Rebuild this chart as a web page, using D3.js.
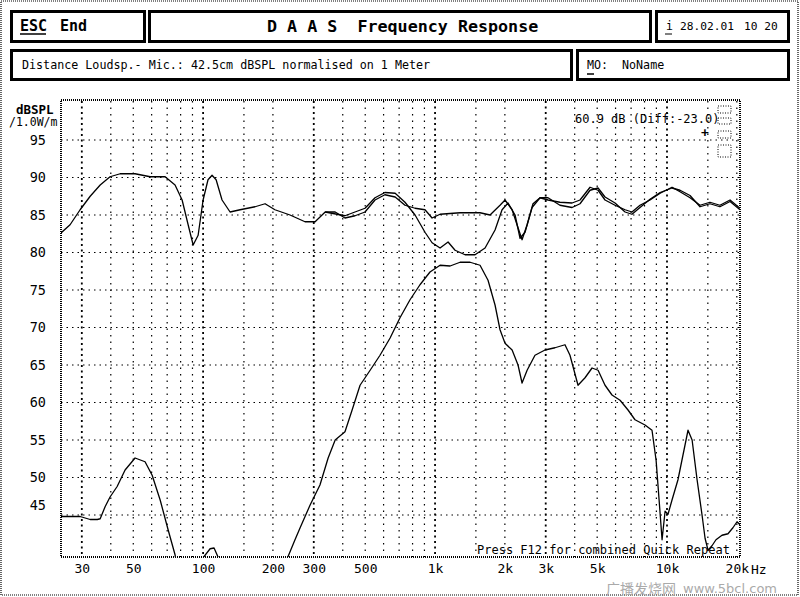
<!DOCTYPE html>
<html><head><meta charset="utf-8">
<script src="https://cdn.jsdelivr.net/npm/d3@7"></script>
<style>body{margin:0;background:#fff}svg{display:block}</style>
</head><body><svg id="c" width="800" height="597"></svg>
<script>
// ---------- data ----------
const dbTicks = [95, 90, 85, 80, 75, 70, 65, 60, 55, 50, 45];
const freqTickValues = [30, 50, 100, 200, 300, 500, 1000, 2000, 3000, 5000, 10000, 20000];
const freqTickLabels = ["30", "50", "100", "200", "300", "500", "1k", "2k", "3k", "5k", "10k", "20k"];
const gridFreqs = [30, 40, 50, 60, 70, 80, 90, 100, 150, 200, 300, 400, 500, 600, 700, 800, 900, 1000,
  1500, 2000, 3000, 4000, 5000, 6000, 7000, 8000, 9000, 10000, 15000, 20000];
const majorFreqs = [30, 100, 300, 1000, 3000, 10000];

// upper summed response (curve A)
const sumAFreq = [24.4, 26.7, 29.5, 32.6, 36, 39.7, 43.9, 50.9, 59.1, 68.6, 75.7, 81.2, 86.2, 90.6, 95.2, 100, 105, 109.3, 113.8, 120.7,
  130.7, 144.4, 167.5, 185, 204, 237, 275, 304, 336, 371, 409, 452, 499, 551, 608, 673, 742, 820, 905, 971,
  1051, 1282, 1563, 1726, 1906, 2003, 2149, 2279, 2372, 2494, 2644, 2836, 3069, 3456, 3896, 4217, 4658, 5045, 5405, 5970,
  6594, 7063, 7649, 8448, 9340, 10510, 11380, 12570, 13880, 15320, 16910, 18700, 20640];
const sumADb = [82.6, 83.7, 85.7, 87.5, 89, 90.1, 90.5, 90.5, 90.1, 90.1, 89, 87, 83.7, 81, 82.3, 87, 89.7, 90.3, 89.7, 87,
  85.4, 85.7, 86.1, 86.5, 85.7, 85, 84.1, 84.1, 85.4, 85.4, 84.6, 84.9, 85.4, 87, 87.7, 87.4, 86.3, 85.9, 85.7, 84.6,
  85.1, 85.3, 85.3, 85, 86.3, 87, 85.7, 83.3, 81.7, 83.7, 86.5, 87.3, 87, 86.7, 86.6, 87, 88.7, 88.3, 87, 86.3,
  85.7, 85.4, 86.3, 87, 87.9, 88.7, 88.1, 87.3, 86.3, 86.7, 86.3, 87, 85.9];

// summed response with crossover dip (curve B)
const sumBFreq = [336, 409, 499, 551, 608, 673, 742, 820, 905, 971, 1051, 1138, 1220, 1347, 1487, 1643, 1814, 1945, 2064, 2213,
  2325, 2443, 2620, 2836, 3069, 3456, 3896, 4217, 4658, 5045, 5405, 5970, 6594, 7063, 7649, 8448, 9340, 10510, 11380, 12570,
  13880, 15320, 16910, 18700, 20640];
const sumBDb = [85.4, 84.9, 85.9, 87.3, 88, 87.9, 86.7, 85, 82.7, 81.3, 80.6, 81.4, 80.3, 79.7, 79.7, 80.6, 83, 85.7, 86.6, 85,
  81.9, 82.7, 86, 87.3, 87.3, 86.3, 86, 86.5, 88.3, 88.6, 87.4, 86.6, 85.4, 85.1, 86, 87.1, 88, 88.6, 88.3, 87.6,
  86.1, 86.5, 86.1, 86.8, 85.7];

// lower single-driver / difference curve
const lowFreq = [24.4, 29.5, 32.6, 35, 36, 37.8, 39.7, 42.6, 46.1, 50.9, 56.2, 60.3, 65.3, 70.7, 75.7, 80, 95, 100, 107.2, 111.5,
  116, 122, 220, 232, 249, 262, 289, 319, 346, 371, 409, 439, 475, 525, 579, 640, 706, 780, 861, 951,
  1051, 1161, 1282, 1416, 1563, 1692, 1814, 1906, 2003, 2149, 2279, 2372, 2494, 2697, 2979, 3289, 3632, 3817, 4134, 4432,
  4752, 5045, 5405, 5792, 6274, 6792, 7278, 8038, 8617, 8974, 9246, 9522, 9811, 10100, 10510, 11150, 11720, 12320, 12830, 13480,
  14160, 14590, 15030, 15630, 16260, 17260, 18320, 19240, 20040, 20640];
const lowDb = [44.8, 44.8, 44.4, 44.4, 44.5, 46.1, 47.4, 48.8, 51, 52.6, 52.1, 50.3, 47, 43, 39.7, 35, 35, 39.3, 40.5, 40.6,
  39.4, 35, 35, 39.4, 41.7, 43.3, 46.3, 49, 52.6, 55, 56.1, 59, 62.3, 64.3, 66.3, 68.6, 71.3, 73.7, 75.7, 77.4,
  78.3, 78.2, 78.7, 78.7, 78.3, 76.3, 73, 69.7, 67.9, 67, 65, 62.6, 64.3, 66.3, 67, 67.3, 67.7, 66.3, 62.3, 63.3,
  64.6, 64.3, 62.3, 61, 60.3, 59, 57.7, 57, 56.3, 52.3, 47, 41.7, 45.5, 45.1, 47, 49.7, 53, 56.3, 55, 49.7,
  45, 41.9, 40.3, 40.9, 41.7, 42.3, 42.5, 43.3, 44.1, 43.7];

// ---------- drawing ----------
const svg = d3.select("#c");
const mono = "'DejaVu Sans Mono', 'Liberation Mono', monospace";
const P = {l: 61, r: 740, t: 101, b: 557};
const x = d3.scaleLog().domain([24.4, 20640]).range([P.l, P.r]);
const y = d3.scaleLinear().domain([39.4, 100.2]).range([P.b, P.t]);

// outer dotted page frame
svg.append("rect").attr("x", 1).attr("y", 1).attr("width", 797).attr("height", 594)
  .attr("fill", "none").attr("stroke", "#000").attr("stroke-width", 1.2).attr("stroke-dasharray", "1,1");

// header boxes
const boxes = [
  [11.5, 11.5, 133, 30], [149.5, 11.5, 501, 30], [656.5, 11.5, 132, 30],
  [11.5, 50.5, 560, 29], [577.5, 50.5, 211, 29]
];
svg.selectAll("rect.box").data(boxes).enter().append("rect").attr("class", "box")
  .attr("x", d => d[0]).attr("y", d => d[1]).attr("width", d => d[2]).attr("height", d => d[3])
  .attr("fill", "none").attr("stroke", "#000").attr("stroke-width", 3);

function txt(t, xx, yy, size, opts = {}) {
  return svg.append("text").attr("x", xx).attr("y", yy).text(t)
    .attr("font-family", opts.family || mono).attr("font-size", size)
    .attr("font-weight", opts.bold ? "bold" : "normal")
    .attr("text-anchor", opts.anchor || "start").attr("dominant-baseline", "central")
    .attr("fill", opts.fill || "#000")
    .style("white-space", "pre");
}
txt("ESC", 20, 26, 15, {bold: true});
svg.append("line").attr("x1", 20).attr("x2", 46).attr("y1", 34).attr("y2", 34).attr("stroke", "#000").attr("stroke-width", 1.5);
txt("End", 60, 26, 15, {bold: true});
txt("D A A S  Frequency Response", 267, 26, 16.7, {bold: true});
txt("i", 666, 26, 11.5);
svg.append("line").attr("x1", 665).attr("x2", 672).attr("y1", 34).attr("y2", 34).attr("stroke", "#000").attr("stroke-width", 1);
txt("28.02.01", 680, 26, 11.2);
txt("10 20", 744, 26, 11.2);
txt("Distance Loudsp.- Mic.: 42.5cm dBSPL normalised on 1 Meter", 22, 65, 11.7);
txt("MO:", 587, 65, 11.7);
svg.append("line").attr("x1", 587).attr("x2", 594).attr("y1", 74).attr("y2", 74).attr("stroke", "#000").attr("stroke-width", 1.5);
txt("NoName", 622, 65, 11.7);

// grid
const g = svg.append("g");
g.selectAll("line.hg").data(dbTicks).enter().append("line")
  .attr("x1", P.l).attr("x2", P.r).attr("y1", d => y(d)).attr("y2", d => y(d))
  .attr("stroke", "#000").attr("stroke-width", 1.2).attr("stroke-dasharray", "1.5,4");
g.selectAll("line.vg").data(gridFreqs).enter().append("line")
  .attr("x1", d => x(d)).attr("x2", d => x(d)).attr("y1", P.t).attr("y2", P.b)
  .attr("stroke", "#000")
  .attr("stroke-width", d => majorFreqs.includes(d) ? 1.8 : 1.2)
  .attr("stroke-dasharray", d => majorFreqs.includes(d) ? "2,3.5" : "1.5,5");

// curves
svg.append("clipPath").attr("id", "clip").append("rect")
  .attr("x", P.l).attr("y", P.t).attr("width", P.r - P.l).attr("height", P.b - P.t);
const line = d3.line().x(d => x(d[0])).y(d => y(d[1]));
const series = [
  d3.zip(sumAFreq, sumADb),
  d3.zip(sumBFreq, sumBDb),
  d3.zip(lowFreq, lowDb)
];
svg.append("g").attr("clip-path", "url(#clip)").selectAll("path").data(series).enter().append("path")
  .attr("d", line).attr("fill", "none").attr("stroke", "#000").attr("stroke-width", 1.3)
  .attr("stroke-linejoin", "round");

// plot frame
svg.append("rect").attr("x", P.l).attr("y", P.t - 1).attr("width", P.r - P.l).attr("height", P.b - P.t + 1)
  .attr("fill", "none").attr("stroke", "#000").attr("stroke-width", 2).attr("stroke-dasharray", "1,1");

// axes
const xAxis = d3.axisBottom(x).tickValues(freqTickValues).tickFormat((d, i) => freqTickLabels[i]).tickSize(0).tickPadding(0);
const xa = svg.append("g").attr("transform", `translate(0,${P.b + 12})`).call(xAxis);
xa.select(".domain").remove();
xa.selectAll("text").attr("font-family", mono).attr("font-size", 13).attr("fill", "#000").attr("dy", "0.32em").attr("y", 0);
txt("Hz", 751, P.b + 12, 13);

const yAxis = d3.axisLeft(y).tickValues(dbTicks).tickFormat(d3.format("d")).tickSize(0).tickPadding(0);
const ya = svg.append("g").attr("transform", `translate(46,0)`).call(yAxis);
ya.select(".domain").remove();
ya.selectAll("text").attr("font-family", mono).attr("font-size", 13.5).attr("fill", "#000").attr("x", 0)
  .attr("dy", d => d === 45 ? "-0.4em" : "0.32em");

txt("dBSPL", 16, 109, 12.5, {bold: true});
txt("/1.0W/m", 9, 122, 11.5);

// readout
txt("60.9 dB (Diff:-23.0)", 575, 119, 12);
txt("+", 705, 132, 13, {bold: true, anchor: "middle"});
const icons = [[718, 106, 13, 7], [718, 118, 13, 6], [718, 131, 13, 7], [718, 145, 13, 12]];
svg.selectAll("rect.icon").data(icons).enter().append("rect")
  .attr("x", d => d[0]).attr("y", d => d[1]).attr("width", d => d[2]).attr("height", d => d[3])
  .attr("fill", "none").attr("stroke", "#000").attr("stroke-width", 1).attr("stroke-dasharray", "1,1.5");

txt("Press F12 for combined Quick Repeat", 477, 550, 12);

// watermark
txt("广播发烧网", 606, 588, 14, {family: "'Noto Sans CJK SC', sans-serif", fill: "#aaa"});
txt("www.5bcl.com", 683, 588, 13, {family: "'DejaVu Sans', sans-serif", fill: "#aaa"});
</script></body></html>
